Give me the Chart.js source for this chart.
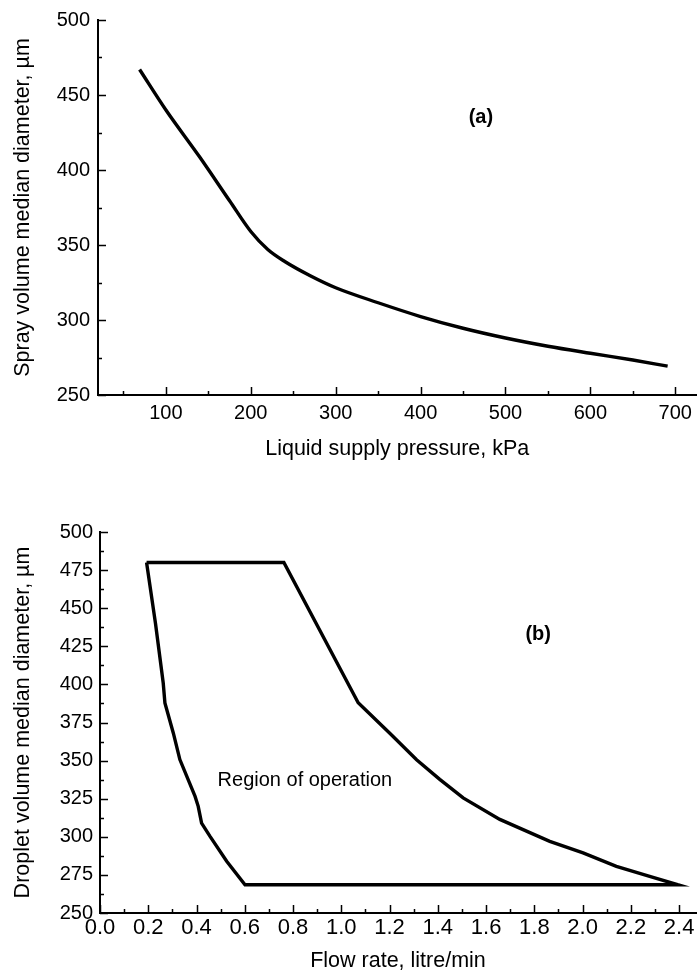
<!DOCTYPE html>
<html><head><meta charset="utf-8">
<script src="https://cdn.jsdelivr.net/npm/chart.js@4"></script>
<style>
html,body{margin:0;padding:0;background:#fff;overflow:hidden;}
#wrapA{position:absolute;left:0;top:0;width:698px;height:470px;}
#wrapB{position:absolute;left:0;top:470px;width:698px;height:506px;}
</style></head><body>
<div id="wrapA"><canvas id="chartA"></canvas></div>
<div id="wrapB"><canvas id="chartB"></canvas></div>
<script>
// ---------- Data: chart (a) ----------
const pressureKPa = [69, 100, 140, 175, 200, 220, 240, 270, 300, 350, 400, 450, 500, 550, 600, 650, 691];
const sprayVMD    = [467, 440, 408.5, 379.5, 359, 347, 339, 329.5, 321.5, 311.5, 302.3, 294.5, 288, 282.5, 277.8, 273.3, 269.2];
const aXTickLabels = [100, 200, 300, 400, 500, 600, 700];
const aXMinorTicks = [50, 150, 250, 350, 450, 550, 650];
const aYTickLabels = [250, 300, 350, 400, 450, 500];
const aYMinorTicks = [275, 325, 375, 425, 475];

// ---------- Data: chart (b) ----------
const flowRate   = [0.193, 0.762, 1.070, 1.201, 1.312, 1.408, 1.505, 1.657, 1.864, 2.002, 2.140, 2.278, 2.396, 0.601, 0.525, 0.456, 0.421, 0.407, 0.394, 0.331, 0.304, 0.269, 0.262, 0.230, 0.193];
const dropletVMD = [480, 480, 388, 368, 350.6, 337.7, 325.5, 311.4, 297, 289.4, 280.6, 274, 268.5, 268.5, 284, 300.3, 309, 320, 326.5, 350.7, 368, 387.8, 400.9, 440, 480];
const bXTickLabels = [0.0, 0.2, 0.4, 0.6, 0.8, 1.0, 1.2, 1.4, 1.6, 1.8, 2.0, 2.2, 2.4];
const bXMinorTicks = [0.1, 0.3, 0.5, 0.7, 0.9, 1.1, 1.3, 1.5, 1.7, 1.9, 2.1, 2.3];
const bYTickLabels = [250, 275, 300, 325, 350, 375, 400, 425, 450, 475, 500];
const bYMinorTicks = [262.5, 287.5, 312.5, 337.5, 362.5, 387.5, 412.5, 437.5, 462.5, 487.5];

const FONT = "'Liberation Sans', Arial, Helvetica, sans-serif";

// inward tick marks drawn through the scales
const innerTicks = {
  id: 'innerTicks',
  afterDatasetsDraw(chart, args, o) {
    const ctx = chart.ctx, ca = chart.chartArea;
    const xs = chart.scales.x, ys = chart.scales.y;
    ctx.save();
    ctx.strokeStyle = '#000';
    ctx.lineWidth = 1.5;
    ctx.beginPath();
    const xt = (vals, len) => vals.forEach(v => { const p = Math.round(xs.getPixelForValue(v)) + 0.5; ctx.moveTo(p, ca.bottom); ctx.lineTo(p, ca.bottom - len); });
    const yt = (vals, len) => vals.forEach(v => { const p = Math.round(ys.getPixelForValue(v)) + 0.5; ctx.moveTo(ca.left, p); ctx.lineTo(ca.left + len, p); });
    xt(o.xMajor, o.majorLen); xt(o.xMinor, o.minorLen);
    yt(o.yMajor, o.majorLen); yt(o.yMinor, o.minorLen);
    ctx.stroke();
    ctx.restore();
  }
};

// text annotations placed in data coordinates
const notes = {
  id: 'notes',
  afterDatasetsDraw(chart, args, o) {
    const ctx = chart.ctx;
    ctx.save();
    ctx.fillStyle = '#000';
    ctx.textBaseline = 'middle';
    (o.items || []).forEach(it => {
      ctx.font = it.font;
      ctx.textAlign = it.align || 'center';
      ctx.fillText(it.text, chart.scales.x.getPixelForValue(it.x), chart.scales.y.getPixelForValue(it.y));
    });
    ctx.restore();
  }
};

function makeChart(id, cfg) {
  return new Chart(document.getElementById(id), {
    type: 'scatter',
    data: { datasets: [{
      data: cfg.xs.map((x, i) => ({ x: x, y: cfg.ys[i] })),
      showLine: true,
      borderColor: '#000',
      backgroundColor: '#000',
      borderWidth: 3.4,
      pointRadius: 0,
      tension: cfg.tension,
      cubicInterpolationMode: cfg.cubic,
      borderJoinStyle: 'miter',
      borderCapStyle: 'butt'
    }]},
    options: {
      responsive: true,
      maintainAspectRatio: false,
      animation: false,
      events: [],
      layout: { padding: cfg.padding },
      plugins: {
        legend: { display: false },
        tooltip: { enabled: false },
        innerTicks: cfg.ticks,
        notes: { items: cfg.notes }
      },
      scales: {
        x: {
          type: 'linear', min: cfg.xMin, max: cfg.xMax,
          afterBuildTicks: s => { s.ticks = cfg.xLabels.map(v => ({ value: v })); },
          afterFit: s => { s.height = cfg.xHeight; },
          grid: { display: true, drawOnChartArea: false, drawTicks: false },
          border: { display: true, color: '#000', width: 2 },
          ticks: { color: '#000', padding: cfg.xPad, maxRotation: 0, autoSkip: false,
                   font: { family: FONT, size: cfg.xFont }, callback: cfg.xFmt },
          title: { display: true, text: cfg.xTitle, color: '#000',
                   font: { family: FONT, size: 21.5 }, padding: { top: 0, bottom: cfg.xTitlePad } }
        },
        y: {
          type: 'linear', min: cfg.yMin, max: cfg.yMax,
          afterBuildTicks: s => { s.ticks = cfg.yLabels.map(v => ({ value: v })); },
          afterFit: s => { s.width = cfg.yWidth; },
          grid: { display: true, drawOnChartArea: false, drawTicks: false },
          border: { display: true, color: '#000', width: 2 },
          ticks: { color: '#000', padding: cfg.yPad, autoSkip: false,
                   font: { family: FONT, size: 20 }, callback: v => String(v) },
          title: { display: true, text: cfg.yTitle, color: '#000',
                   font: { family: FONT, size: 21.5 }, padding: { top: 10, bottom: 0 } }
        }
      }
    },
    plugins: [innerTicks, notes]
  });
}

makeChart('chartA', {
  xs: pressureKPa, ys: sprayVMD, tension: 0.4, cubic: 'monotone',
  padding: { left: 0, top: 14, right: 1, bottom: 0 },
  xMin: 20, xMax: 725, yMin: 250, yMax: 500,
  xLabels: aXTickLabels, yLabels: aYTickLabels,
  xHeight: 75, yWidth: 98, xPad: 6, yPad: 8, xFont: 20,
  xFmt: v => String(v), xTitlePad: 8,
  xTitle: 'Liquid supply pressure, kPa',
  yTitle: 'Spray volume median diameter, \u00b5m',
  ticks: { xMajor: aXTickLabels, xMinor: aXMinorTicks, yMajor: aYTickLabels, yMinor: aYMinorTicks, majorLen: 8, minorLen: 4 },
  notes: [{ text: '(a)', x: 471, y: 435, font: 'bold 20px ' + FONT }]
});

makeChart('chartB', {
  xs: flowRate, ys: dropletVMD, tension: 0, cubic: 'default',
  padding: { left: 0, top: 62, right: 2, bottom: 0 },
  xMin: 0, xMax: 2.47, yMin: 250, yMax: 500,
  xLabels: bXTickLabels, yLabels: bYTickLabels,
  xHeight: 63, yWidth: 100, xPad: 2, yPad: 7, xFont: 22,
  xFmt: v => Number(v).toFixed(1), xTitlePad: 2,
  xTitle: 'Flow rate, litre/min',
  yTitle: 'Droplet volume median diameter, \u00b5m',
  ticks: { xMajor: bXTickLabels, xMinor: bXMinorTicks, yMajor: bYTickLabels, yMinor: bYMinorTicks, majorLen: 8, minorLen: 4 },
  notes: [
    { text: '(b)', x: 1.816, y: 432.6, font: 'bold 20px ' + FONT },
    { text: 'Region of operation', x: 0.849, y: 336.8, font: '20px ' + FONT }
  ]
});
</script>
</body></html>
